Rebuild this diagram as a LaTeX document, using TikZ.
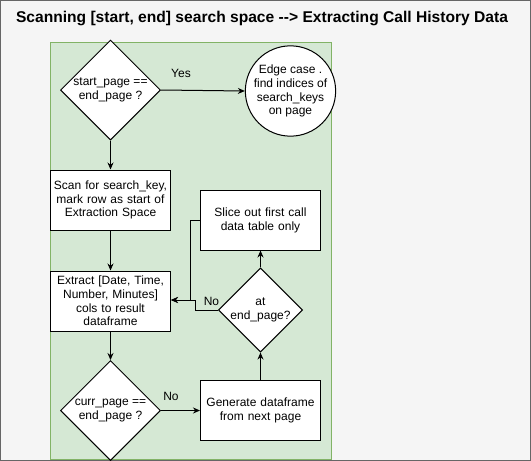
\documentclass[tikz,border=0pt]{standalone}
\usepackage{fontspec}
\setmainfont{Liberation Sans}
\usetikzlibrary{shapes.geometric,arrows.meta}
\definecolor{bggrey}{HTML}{F5F5F5}
\definecolor{framegrey}{HTML}{666666}
\definecolor{gfill}{HTML}{D5E8D4}
\definecolor{gdraw}{HTML}{82B366}
\begin{document}
\begin{tikzpicture}[x=1pt,y=-1pt,
  txt/.style={font=\fontsize{12}{13.8}\selectfont, align=center},
  procbox/.style={txt, draw=black, fill=white, line width=1pt, minimum width=120pt, minimum height=60pt, inner sep=1pt, text width=118pt},
  decision/.style={txt, draw=black, fill=white, line width=1pt, diamond, aspect=1, inner sep=0pt},
  edgecirc/.style={txt, draw=black, fill=white, line width=1pt, circle, minimum size=80pt, inner sep=0pt},
  conn/.style={draw=black, line width=1pt, -{Stealth[length=7pt,width=6pt]}},
  lbl/.style={txt}
]
\useasboundingbox (0,0) rectangle (531,461);
\fill[bggrey] (0,0) rectangle (531,461);
\draw[framegrey, line width=1.2pt] (0.6,0.6) rectangle (530.2,460.2);
\node[font=\bfseries\fontsize{15.6}{17}\selectfont] (title) at (262,18) {Scanning [start, end] search space -{}-> Extracting Call History Data};
\draw[gdraw, fill=gfill, line width=1pt] (50.5,42) rectangle (331.5,459);

\node[decision, minimum size=100pt] (d1) at (110.5,90) {start\_page ==\\end\_page ?};
\node[edgecirc] (ec) at (290.5,91) {Edge case .\\find indices of\\search\_keys\\on page};
\node[procbox] (scan) at (110.5,200) {Scan for search\_key,\\mark row as start of\\Extraction Space};
\node[procbox] (extract) at (110.5,301) {Extract [Date, Time,\\Number, Minutes]\\cols to result\\dataframe};
\node[decision, minimum size=100pt] (d2) at (110.5,410.5) {curr\_page ==\\end\_page ?};
\node[procbox] (gen) at (260.5,410.5) {Generate dataframe\\from next page};
\node[decision, minimum size=80pt] (d3) at (260.5,310) {at\\end\_page?};
\node[procbox] (slice) at (260.5,220) {Slice out first call\\data table only};

\coordinate (j1) at (190.5,220);
\coordinate (j2) at (195.5,310);

\draw[conn] (d1.east) -- (ec.west);
\node[lbl] (yes) at (181,73) {Yes};
\draw[conn] (d1.south) -- (scan.north);
\draw[conn] (scan.south) -- (extract.north);
\draw[conn] (extract.south) -- (d2.north);
\draw[conn] (d2.east) -- (gen.west);
\node[lbl] (no1) at (171,396) {No};
\draw[conn] (gen.north) -- (d3.south);
\draw[conn] (d3.north) -- (slice.south);
\draw[conn] (slice.west) -- (j1) |- (extract.east |- 0,300);
\draw[conn] (d3.west) -- (j2) |- (extract.east |- 0,300);
\node[lbl] (no2) at (211.5,301) {No};
\end{tikzpicture}
\end{document}
